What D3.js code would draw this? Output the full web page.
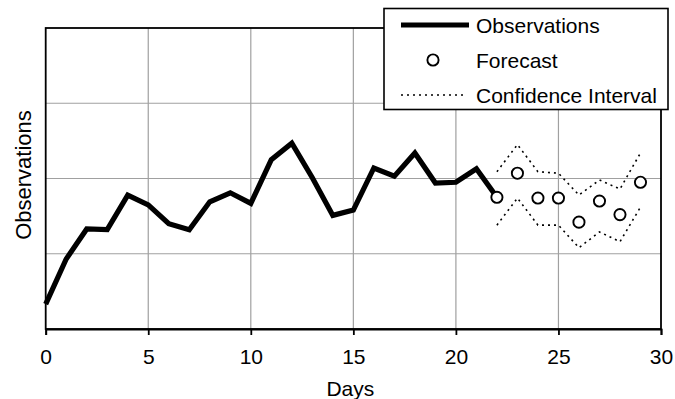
<!DOCTYPE html>
<html>
<head>
<meta charset="utf-8">
<script src="https://cdn.jsdelivr.net/npm/d3@7"></script>
<style>
    body { margin: 0; background: white; }
    text { font-family: "Liberation Sans", Arial, sans-serif; fill: black; }
</style>
</head>
<body>
<div id="chart"></div>
<script>
const width = 675, height = 399,
    left = 45.7, right = 661, top_ = 28, bottom = 329,
    font_size = "21px", grid_color = "#a0a0a0",
    circle_r = 5.6, circle_stroke = 1.9

// days 0..22 observed, 22..29 forecast
const obs_days = d3.range(0, 23)
const obs_values = [0.33, 0.93, 1.33, 1.32, 1.78, 1.65, 1.40, 1.32, 1.69, 1.81, 1.67, 2.25,
    2.47, 2.01, 1.51, 1.58, 2.14, 2.03, 2.34, 1.94, 1.95, 2.13, 1.75]

const fc_days = d3.range(22, 30)
const fc_values = [1.75, 2.07, 1.74, 1.74, 1.42, 1.70, 1.52, 1.95]
const ci_upper = [2.09, 2.45, 2.09, 2.07, 1.78, 1.98, 1.86, 2.34]
const ci_lower = [1.38, 1.74, 1.38, 1.38, 1.08, 1.29, 1.16, 1.62]

const x_ticks = [0, 5, 10, 15, 20, 25, 30]
const y_grid = [1, 2, 3]

const legend_labels = ["Observations", "Forecast", "Confidence Interval"]

const x = d3.scaleLinear().domain([0, 30]).range([left, right])
const y = d3.scaleLinear().domain([0, 4]).range([bottom, top_])

const svg = d3.select("#chart")
    .append("svg")
    .attr("width", width)
    .attr("height", height)

// grid
svg.append("g")
    .selectAll("line")
    .data(x_ticks.slice(1, -1))
    .enter().append("line")
    .attr("x1", d => x(d)).attr("x2", d => x(d))
    .attr("y1", top_).attr("y2", bottom)
    .attr("stroke", grid_color).attr("stroke-width", 1.2)

svg.append("g")
    .selectAll("line")
    .data(y_grid)
    .enter().append("line")
    .attr("x1", left).attr("x2", right)
    .attr("y1", d => y(d)).attr("y2", d => y(d))
    .attr("stroke", grid_color).attr("stroke-width", 1.2)

// frame
svg.append("rect")
    .attr("x", left).attr("y", top_)
    .attr("width", right - left).attr("height", bottom - top_)
    .attr("fill", "none")
    .attr("stroke", "black").attr("stroke-width", 1.8)

// x axis
const x_axis = svg.append("g")
    .attr("transform", "translate(0," + bottom + ")")
    .call(d3.axisBottom(x).tickValues(x_ticks).tickSize(6).tickPadding(14))
x_axis.select(".domain").attr("stroke-width", 1.8)
x_axis.selectAll(".tick line").attr("stroke-width", 1.8)
x_axis.selectAll("text")
    .attr("font-size", font_size)
    .attr("font-family", "Liberation Sans, Arial, sans-serif")

svg.append("text")
    .attr("x", (left + right) / 2 - 3)
    .attr("y", 396)
    .attr("text-anchor", "middle")
    .attr("font-size", font_size)
    .text("Days")

svg.append("text")
    .attr("transform", "translate(31," + 175 + ") rotate(-90)")
    .attr("text-anchor", "middle")
    .attr("font-size", "22px")
    .text("Observations")

// confidence interval
const ci_line = d3.line()
    .x((d, i) => x(fc_days[i]))
    .y(d => y(d))

svg.selectAll("path.ci")
    .data([ci_upper, ci_lower])
    .enter().append("path")
    .attr("class", "ci")
    .attr("d", ci_line)
    .attr("fill", "none")
    .attr("stroke", "black")
    .attr("stroke-width", 1.6)
    .attr("stroke-dasharray", "2,4")

// observations
const obs_line = d3.line()
    .x((d, i) => x(obs_days[i]))
    .y(d => y(d))

svg.append("path")
    .datum(obs_values)
    .attr("d", obs_line)
    .attr("fill", "none")
    .attr("stroke", "black")
    .attr("stroke-width", 5.2)
    .attr("stroke-linejoin", "miter")

// forecast circles
svg.append("g")
    .selectAll("circle")
    .data(fc_values)
    .enter().append("circle")
    .attr("cx", (d, i) => x(fc_days[i]))
    .attr("cy", d => y(d))
    .attr("r", circle_r)
    .attr("fill", "white")
    .attr("stroke", "black")
    .attr("stroke-width", circle_stroke)

// legend
const legend = svg.append("g")

legend.append("rect")
    .attr("x", 384).attr("y", 8.5)
    .attr("width", 284).attr("height", 101)
    .attr("fill", "white")
    .attr("stroke", "black").attr("stroke-width", 1.6)

const legend_rows = legend.selectAll("g.row")
    .data(legend_labels)
    .enter().append("g")
    .attr("class", "row")
    .attr("transform", (d, i) => "translate(0," + (25 + i * 35) + ")")

legend_rows.append("text")
    .attr("x", 476)
    .attr("y", 8)
    .attr("font-size", font_size)
    .text(d => d)

legend_rows.filter((d, i) => i === 0).append("line")
    .attr("x1", 401).attr("x2", 469)
    .attr("stroke", "black").attr("stroke-width", 5.2)

legend_rows.filter((d, i) => i === 1).append("circle")
    .attr("cx", 433).attr("cy", 0).attr("r", circle_r)
    .attr("fill", "white").attr("stroke", "black").attr("stroke-width", circle_stroke)

legend_rows.filter((d, i) => i === 2).append("line")
    .attr("x1", 401).attr("x2", 466)
    .attr("stroke", "black").attr("stroke-width", 1.6)
    .attr("stroke-dasharray", "2,4")
</script>
</body>
</html>
